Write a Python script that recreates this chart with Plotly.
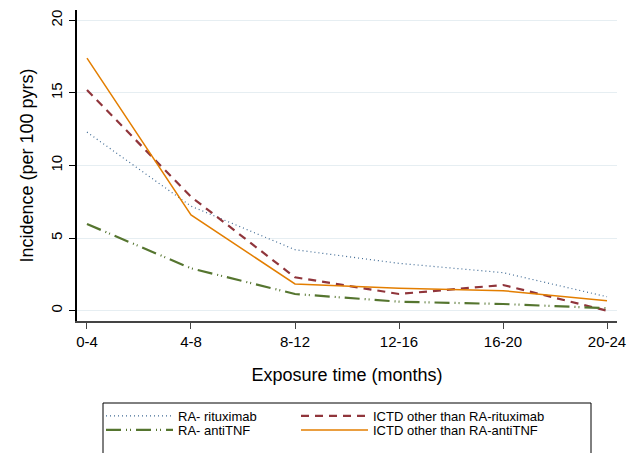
import plotly.graph_objects as go

categories = ["0-4", "4-8", "8-12", "12-16", "16-20", "20-24"]
ra_rituximab = [12.3, 7.2, 4.2, 3.26, 2.62, 0.96]
ictd_rituximab = [15.2, 7.85, 2.3, 1.15, 1.77, 0.0]
ra_antitnf = [5.97, 2.92, 1.15, 0.62, 0.46, 0.17]
ictd_antitnf = [17.4, 6.6, 1.84, 1.54, 1.38, 0.69]
y_ticks = [0, 5, 10, 15, 20]

FONT = "Liberation Sans, Arial, Helvetica, sans-serif"
xs = list(range(len(categories)))

# page body has an 8px margin: compensate so plot area sits at page x 77..617, y 10..321
W, H = 636, 445
ML, MT, MR, MB = 69, 2, 27, 132
PW, PH = W - ML - MR, H - MT - MB  # 540 x 311
PX0, PY0 = 8 + ML, 8 + MT + PH     # page coords of plot-area left / bottom


def px(xp):
    return (xp - PX0) / PW


def py(yp):
    return (PY0 - yp) / PH


fig = go.Figure()
fig.add_trace(go.Scatter(x=xs, y=ra_rituximab, mode="lines", name="RA- rituximab", legend="legend",
                         line=dict(color="#3f6a94", width=1.2, dash="1px,3px")))
fig.add_trace(go.Scatter(x=xs, y=ictd_rituximab, mode="lines", name="ICTD other than RA-rituximab",
                         legend="legend2",
                         line=dict(color="#90353B", width=2.2, dash="8px,6px")))
fig.add_trace(go.Scatter(x=xs, y=ra_antitnf, mode="lines", name="RA- antiTNF", legend="legend3",
                         line=dict(color="#55752F", width=2.2, dash="15px,5px,1px,3px,1px,5px")))
fig.add_trace(go.Scatter(x=xs, y=ictd_antitnf, mode="lines", name="ICTD other than RA-antiTNF",
                         legend="legend4",
                         line=dict(color="#E37E00", width=1.5)))

leg_common = dict(orientation="v", yanchor="top", xanchor="left",
                  itemwidth=67, font=dict(size=13), bgcolor="rgba(0,0,0,0)",
                  borderwidth=0, tracegroupgap=0)

fig.update_layout(
    width=W, height=H,
    margin=dict(l=ML, r=MR, t=MT, b=MB),
    paper_bgcolor="white", plot_bgcolor="white",
    font=dict(family=FONT, color="black", size=15),
    showlegend=True,
    legend=dict(x=px(101), y=py(401), **leg_common),
    legend2=dict(x=px(296), y=py(401), **leg_common),
    legend3=dict(x=px(101), y=py(415), **leg_common),
    legend4=dict(x=px(296), y=py(415), **leg_common),
    xaxis=dict(range=[-0.096, 5.096], tickmode="array", tickvals=xs, ticktext=categories,
               showgrid=False, zeroline=False, showline=True, linecolor="#444", linewidth=1.5,
               ticks="outside", ticklen=6, tickcolor="#444", tickwidth=1.2,
               tickfont=dict(size=15), automargin=False,
               title=dict(text="Exposure time (months)", font=dict(size=18), standoff=20)),
    yaxis=dict(range=[-0.71, 20.71], tickmode="array", tickvals=y_ticks,
               ticktext=[str(v) for v in y_ticks], tickangle=-90,
               showgrid=True, gridcolor="#E6EEF2", gridwidth=1.2, zeroline=False,
               showline=True, linecolor="black", linewidth=1.5,
               ticks="outside", ticklen=6, tickcolor="black", tickwidth=1.2,
               tickfont=dict(size=15), ticklabelstandoff=1, automargin=False,
               title=dict(text="Incidence (per 100 pyrs)", font=dict(size=18), standoff=10)),
)

# legend border box (extends below the visible page like the reference)
fig.add_shape(type="rect", xref="paper", yref="paper",
              x0=px(103), x1=px(591), y0=py(470), y1=py(403),
              line=dict(color="black", width=1), fillcolor="rgba(0,0,0,0)", layer="above")

fig.write_html("out.html")
